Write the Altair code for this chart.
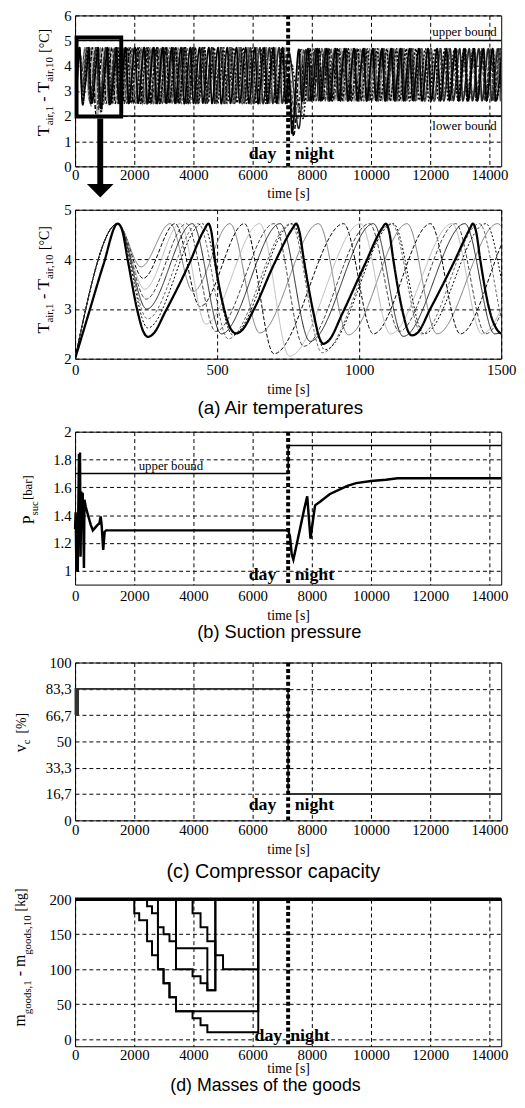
import altair as alt
import pandas as pd

# ---------------- values ----------------
# Air temperatures (time [s], temperature [°C]) - turning points of each display case; C0 = bold curve
C0 = [(0,2.0),(50,2.95),(100,3.9),(150,4.72),(165,4.6),(185,4.0),(220,2.95),(240,2.55),(257,2.44),(275,2.5),(318,2.95),(399,3.88),(455,4.6),(469,4.72),(480,4.55),(492,4.0),(527,2.95),(550,2.58),(567,2.51),(585,2.56),(630,3.0),(700,3.9),(765,4.62),(778,4.72),(790,4.55),(805,4.0),(840,2.9),(860,2.42),(874,2.3),(895,2.38),(940,2.9),(1020,3.9),(1080,4.62),(1094,4.72),(1106,4.55),(1120,4.0),(1155,2.9),(1175,2.52),(1186,2.47),(1205,2.52),(1250,3.0),(1330,3.9),(1390,4.62),(1400,4.72),(1412,4.55),(1426,4.0),(1460,2.95),(1490,2.55),(1505,2.5),
      (1712,4.72),(1817,2.5),(2024,4.72),(2129,2.51),(2336,4.72),(2441,2.49),(2648,4.72),(2753,2.5),(2960,4.72),(3065,2.52),(3272,4.72),(3377,2.5),(3584,4.72),(3689,2.49),(3896,4.72),(4001,2.5),(4208,4.72),(4313,2.51),(4520,4.72),(4625,2.5),(4832,4.72),(4937,2.49),(5144,4.72),(5249,2.5),(5456,4.72),(5561,2.52),(5768,4.72),(5873,2.5),(6080,4.72),(6185,2.49),(6392,4.72),(6497,2.5),(6704,4.72),(6809,2.51),(7016,4.72),(7121,2.5),(7230,3.6),(7330,1.3),(7560,4.65),(7665,2.58),(7872,4.68),(7977,2.6),(8184,4.68),(8289,2.61),(8496,4.68),(8601,2.6),(8808,4.68),(8913,2.62),(9120,4.68),(9225,2.6),(9432,4.68),(9537,2.61),(9744,4.68),(9849,2.6),(10056,4.68),(10161,2.62),(10368,4.68),(10473,2.6),(10680,4.68),(10785,2.61),(10992,4.68),(11097,2.6),(11304,4.68),(11409,2.62),(11616,4.68),(11721,2.6),(11928,4.68),(12033,2.61),(12240,4.68),(12345,2.6),(12552,4.68),(12657,2.62),(12864,4.68),(12969,2.6),(13176,4.68),(13281,2.61),(13488,4.68),(13593,2.6),(13800,4.68),(13905,2.62),(14112,4.68),(14217,2.6),(14424,4.68)]
C1 = [(0,2.0),(150,4.72),(232,3.85),(335,4.72),(415,3.35),(545,4.72),(650,2.52),(857,4.72),(962,2.48),(1169,4.72),(1274,2.5),(1487,4.72),(1592,2.5),(1805,4.72),(1910,2.51),(2123,4.72),(2228,2.5),(2441,4.72),(2546,2.49),(2759,4.72),(2864,2.5),(3077,4.72),(3182,2.52),(3395,4.72),(3500,2.5),(3713,4.72),(3818,2.49),(4031,4.72),(4136,2.5),(4349,4.72),(4454,2.51),(4667,4.72),(4772,2.5),(4985,4.72),(5090,2.5),(5303,4.72),(5408,2.52),(5621,4.72),(5726,2.5),(5939,4.72),(6044,2.49),(6257,4.72),(6362,2.5),(6575,4.72),(6680,2.51),(6893,4.72),(6998,2.5),(7211,4.6),(7350,1.6),(7590,4.65),(7695,2.6),(7908,4.68),(8013,2.61),(8226,4.68),(8331,2.6),(8544,4.68),(8649,2.62),(8862,4.68),(8967,2.6),(9180,4.68),(9285,2.61),(9498,4.68),(9603,2.6),(9816,4.68),(9921,2.62),(10134,4.68),(10239,2.6),(10452,4.68),(10557,2.61),(10770,4.68),(10875,2.6),(11088,4.68),(11193,2.62),(11406,4.68),(11511,2.6),(11724,4.68),(11829,2.61),(12042,4.68),(12147,2.6),(12360,4.68),(12465,2.62),(12678,4.68),(12783,2.6),(12996,4.68),(13101,2.61),(13314,4.68),(13419,2.6),(13632,4.68),(13737,2.62),(13950,4.68),(14055,2.6),(14268,4.68),(14373,2.61),(14586,4.68)]
C2 = [(0,2.0),(150,4.72),(240,3.62),(352,4.72),(440,3.05),(596,4.72),(700,2.1),(945,4.72),(1050,2.5),(1251,4.72),(1356,2.5),(1557,4.72),(1662,2.51),(1863,4.72),(1968,2.5),(2169,4.72),(2274,2.49),(2475,4.72),(2580,2.5),(2781,4.72),(2886,2.52),(3087,4.72),(3192,2.5),(3393,4.72),(3498,2.5),(3699,4.72),(3804,2.49),(4005,4.72),(4110,2.5),(4311,4.72),(4416,2.51),(4617,4.72),(4722,2.5),(4923,4.72),(5028,2.5),(5229,4.72),(5334,2.52),(5535,4.72),(5640,2.5),(5841,4.72),(5946,2.49),(6147,4.72),(6252,2.5),(6453,4.72),(6558,2.51),(6759,4.72),(6864,2.5),(7065,4.72),(7170,2.5),(7260,3.3),(7380,1.2),(7640,4.65),(7745,2.6),(7946,4.68),(8051,2.61),(8252,4.68),(8357,2.6),(8558,4.68),(8663,2.62),(8864,4.68),(8969,2.6),(9170,4.68),(9275,2.61),(9476,4.68),(9581,2.6),(9782,4.68),(9887,2.62),(10088,4.68),(10193,2.6),(10394,4.68),(10499,2.61),(10700,4.68),(10805,2.6),(11006,4.68),(11111,2.62),(11312,4.68),(11417,2.6),(11618,4.68),(11723,2.61),(11924,4.68),(12029,2.6),(12230,4.68),(12335,2.62),(12536,4.68),(12641,2.6),(12842,4.68),(12947,2.61),(13148,4.68),(13253,2.6),(13454,4.68),(13559,2.62),(13760,4.68),(13865,2.6),(14066,4.68),(14171,2.61),(14372,4.68),(14477,2.6)]
C3 = [(0,2.0),(150,4.72),(245,3.4),(370,4.72),(460,2.7),(650,4.72),(755,2.05),(1005,4.72),(1110,2.5),(1327,4.72),(1432,2.5),(1649,4.72),(1754,2.51),(1971,4.72),(2076,2.5),(2293,4.72),(2398,2.49),(2615,4.72),(2720,2.5),(2937,4.72),(3042,2.52),(3259,4.72),(3364,2.5),(3581,4.72),(3686,2.49),(3903,4.72),(4008,2.5),(4225,4.72),(4330,2.51),(4547,4.72),(4652,2.5),(4869,4.72),(4974,2.5),(5191,4.72),(5296,2.52),(5513,4.72),(5618,2.5),(5835,4.72),(5940,2.49),(6157,4.72),(6262,2.5),(6479,4.72),(6584,2.51),(6801,4.72),(6906,2.5),(7123,4.72),(7450,2.0),(7700,4.65),(7805,2.6),(8022,4.68),(8127,2.61),(8344,4.68),(8449,2.6),(8666,4.68),(8771,2.62),(8988,4.68),(9093,2.6),(9310,4.68),(9415,2.61),(9632,4.68),(9737,2.6),(9954,4.68),(10059,2.62),(10276,4.68),(10381,2.6),(10598,4.68),(10703,2.61),(10920,4.68),(11025,2.6),(11242,4.68),(11347,2.62),(11564,4.68),(11669,2.6),(11886,4.68),(11991,2.61),(12208,4.68),(12313,2.6),(12530,4.68),(12635,2.62),(12852,4.68),(12957,2.6),(13174,4.68),(13279,2.61),(13496,4.68),(13601,2.6),(13818,4.68),(13923,2.62),(14140,4.68),(14245,2.6),(14462,4.68)]
C4 = [(0,2.0),(150,4.72),(250,3.2),(392,4.72),(495,2.55),(700,4.72),(805,2.25),(1036,4.72),(1141,2.55),(1340,4.72),(1445,2.5),(1640,4.72),(1745,2.5),(1940,4.72),(2045,2.51),(2240,4.72),(2345,2.5),(2540,4.72),(2645,2.49),(2840,4.72),(2945,2.5),(3140,4.72),(3245,2.52),(3440,4.72),(3545,2.5),(3740,4.72),(3845,2.49),(4040,4.72),(4145,2.5),(4340,4.72),(4445,2.51),(4640,4.72),(4745,2.5),(4940,4.72),(5045,2.5),(5240,4.72),(5345,2.52),(5540,4.72),(5645,2.5),(5840,4.72),(5945,2.49),(6140,4.72),(6245,2.5),(6440,4.72),(6545,2.51),(6740,4.72),(6845,2.5),(7040,4.72),(7145,2.5),(7230,3.2),(7500,1.8),(7740,4.65),(7845,2.6),(8040,4.68),(8145,2.61),(8340,4.68),(8445,2.6),(8640,4.68),(8745,2.62),(8940,4.68),(9045,2.6),(9240,4.68),(9345,2.61),(9540,4.68),(9645,2.6),(9840,4.68),(9945,2.62),(10140,4.68),(10245,2.6),(10440,4.68),(10545,2.61),(10740,4.68),(10845,2.6),(11040,4.68),(11145,2.62),(11340,4.68),(11445,2.6),(11640,4.68),(11745,2.61),(11940,4.68),(12045,2.6),(12240,4.68),(12345,2.62),(12540,4.68),(12645,2.6),(12840,4.68),(12945,2.61),(13140,4.68),(13245,2.6),(13440,4.68),(13545,2.62),(13740,4.68),(13845,2.6),(14040,4.68),(14145,2.61),(14340,4.68),(14445,2.6)]
C5 = [(0,2.0),(150,4.72),(252,3.0),(413,4.72),(515,2.5),(722,4.72),(827,2.35),(1050,4.72),(1155,2.45),(1372,4.72),(1477,2.5),(1697,4.72),(1802,2.5),(2022,4.72),(2127,2.51),(2347,4.72),(2452,2.5),(2672,4.72),(2777,2.49),(2997,4.72),(3102,2.5),(3322,4.72),(3427,2.52),(3647,4.72),(3752,2.5),(3972,4.72),(4077,2.49),(4297,4.72),(4402,2.5),(4622,4.72),(4727,2.51),(4947,4.72),(5052,2.5),(5272,4.72),(5377,2.5),(5597,4.72),(5702,2.52),(5922,4.72),(6027,2.5),(6247,4.72),(6352,2.49),(6572,4.72),(6677,2.5),(6897,4.72),(7002,2.51),(7222,4.55),(7560,1.5),(7800,4.65),(7905,2.6),(8125,4.68),(8230,2.61),(8450,4.68),(8555,2.6),(8775,4.68),(8880,2.62),(9100,4.68),(9205,2.6),(9425,4.68),(9530,2.61),(9750,4.68),(9855,2.6),(10075,4.68),(10180,2.62),(10400,4.68),(10505,2.6),(10725,4.68),(10830,2.61),(11050,4.68),(11155,2.6),(11375,4.68),(11480,2.62),(11700,4.68),(11805,2.6),(12025,4.68),(12130,2.61),(12350,4.68),(12455,2.6),(12675,4.68),(12780,2.62),(13000,4.68),(13105,2.6),(13325,4.68),(13430,2.61),(13650,4.68),(13755,2.6),(13975,4.68),(14080,2.62),(14300,4.68),(14405,2.6)]
C6 = [(0,2.0),(150,4.72),(255,2.8),(434,4.72),(539,2.4),(760,4.72),(870,2.12),(1115,4.72),(1220,2.5),(1424,4.72),(1524,2.5),(1720,4.72),(1820,2.51),(2016,4.72),(2116,2.5),(2312,4.72),(2412,2.49),(2608,4.72),(2708,2.5),(2904,4.72),(3004,2.52),(3200,4.72),(3300,2.5),(3496,4.72),(3596,2.49),(3792,4.72),(3892,2.5),(4088,4.72),(4188,2.51),(4384,4.72),(4484,2.5),(4680,4.72),(4780,2.5),(4976,4.72),(5076,2.52),(5272,4.72),(5372,2.5),(5568,4.72),(5668,2.49),(5864,4.72),(5964,2.5),(6160,4.72),(6260,2.51),(6456,4.72),(6556,2.5),(6752,4.72),(6852,2.5),(7048,4.72),(7148,2.5),(7260,3.4),(7650,2.1),(7880,4.65),(7980,2.6),(8176,4.68),(8276,2.61),(8472,4.68),(8572,2.6),(8768,4.68),(8868,2.62),(9064,4.68),(9164,2.6),(9360,4.68),(9460,2.61),(9656,4.68),(9756,2.6),(9952,4.68),(10052,2.62),(10248,4.68),(10348,2.6),(10544,4.68),(10644,2.61),(10840,4.68),(10940,2.6),(11136,4.68),(11236,2.62),(11432,4.68),(11532,2.6),(11728,4.68),(11828,2.61),(12024,4.68),(12124,2.6),(12320,4.68),(12420,2.62),(12616,4.68),(12716,2.6),(12912,4.68),(13012,2.61),(13208,4.68),(13308,2.6),(13504,4.68),(13604,2.62),(13800,4.68),(13900,2.6),(14096,4.68),(14196,2.61),(14392,4.68),(14492,2.6)]
C7 = [(0,2.0),(150,4.72),(256,2.62),(448,4.72),(555,2.48),(765,4.72),(880,2.18),(1120,4.72),(1228,2.5),(1446,4.72),(1554,2.5),(1772,4.72),(1880,2.51),(2098,4.72),(2206,2.5),(2424,4.72),(2532,2.49),(2750,4.72),(2858,2.5),(3076,4.72),(3184,2.52),(3402,4.72),(3510,2.5),(3728,4.72),(3836,2.49),(4054,4.72),(4162,2.5),(4380,4.72),(4488,2.51),(4706,4.72),(4814,2.5),(5032,4.72),(5140,2.5),(5358,4.72),(5466,2.52),(5684,4.72),(5792,2.5),(6010,4.72),(6118,2.49),(6336,4.72),(6444,2.5),(6662,4.72),(6770,2.51),(6988,4.72),(7096,2.5),(7250,4.2),(7700,1.9),(7930,4.65),(8038,2.6),(8256,4.68),(8364,2.61),(8582,4.68),(8690,2.6),(8908,4.68),(9016,2.62),(9234,4.68),(9342,2.6),(9560,4.68),(9668,2.61),(9886,4.68),(9994,2.6),(10212,4.68),(10320,2.62),(10538,4.68),(10646,2.6),(10864,4.68),(10972,2.61),(11190,4.68),(11298,2.6),(11516,4.68),(11624,2.62),(11842,4.68),(11950,2.6),(12168,4.68),(12276,2.61),(12494,4.68),(12602,2.6),(12820,4.68),(12928,2.62),(13146,4.68),(13254,2.6),(13472,4.68),(13580,2.61),(13798,4.68),(13906,2.6),(14124,4.68),(14232,2.62),(14450,4.68)]
CURVE_NAMES = ["c0", "c1", "c2", "c3", "c4", "c5", "c6", "c7"]
CURVES = [C0, C1, C2, C3, C4, C5, C6, C7]

TEMP_BOUNDS = [5, 2]          # upper / lower bound [°C]
DAY_NIGHT_T = 7200            # switch day -> night [s]

# Suction pressure (time [s], bar)
PSUC = [(0,1.3),(20,1.42),(45,1.0),(70,1.38),(90,0.99),(110,1.45),(133,1.84),(150,1.3),(166,1.85),(185,1.1),(210,1.57),(240,1.42),(257,1.56),(280,1.3),(300,1.02),(316,1.51),(360,1.46),(450,1.39),(530,1.33),(600,1.29),(680,1.31),(760,1.33),(820,1.34),(866,1.39),(900,1.32),(950,1.15),(1000,1.28),(1050,1.29),(1300,1.29),(3000,1.29),(5000,1.29),(7000,1.29),(7200,1.29),(7260,1.25),(7320,1.12),(7377,1.08),(7450,1.15),(7600,1.3),(7750,1.45),(7844,1.535),(7900,1.38),(7955,1.23),(8050,1.38),(8110,1.47),(8300,1.5),(8600,1.55),(9000,1.59),(9200,1.61),(9500,1.63),(10000,1.645),(10500,1.655),(10900,1.665),(12000,1.665),(13000,1.665),(14400,1.665)]
PSUC_BOUND = [(0,1.7),(7200,1.9),(14400,1.9)]

# Compressor capacity (time [s], %)
VC = [(0,66.7),(15,83.3),(40,66.7),(60,83.3),(80,66.7),(100,83.3),(7200,16.7),(14400,16.7)]

# Masses of the goods (time [s], kg)
M_A = [(0,200),(2000,180),(2167,170),(2433,140),(2600,120),(2800,100),(2990,80),(3190,60),(3410,40),(6190,200),(14400,200)]
M_B = [(0,200),(2433,190),(2600,180),(2800,100),(2990,80),(3190,60),(3410,40),(3970,30),(4240,20),(4470,10),(6190,200),(14400,200)]
M_C = [(0,200),(2800,160),(2990,150),(3190,140),(3410,130),(4470,70),(4740,200),(14400,200)]
M_D = [(0,200),(3410,100),(3970,90),(4240,80),(4470,70),(4740,200),(14400,200)]
M_E = [(0,200),(3970,180),(4240,160),(4470,140),(4740,120),(5000,100),(6190,200),(14400,200)]
M_FLAT = [(0,200),(14400,200)]

# Tick values
TICKS_T_LONG = [0, 2000, 4000, 6000, 8000, 10000, 12000, 14000]
TICKS_T_ZOOM = [0, 500, 1000, 1500]
TICKS_TEMP = [0, 1, 2, 3, 4, 5, 6]
TICKS_TEMP_ZOOM = [2, 3, 4, 5]
TICKS_PSUC = [1, 1.2, 1.4, 1.6, 1.8, 2]
TICKS_VC = [0, 16.7, 33.3, 50, 66.7, 83.3, 100]
TICKS_MASS = [0, 50, 100, 150, 200]

# ---------------- styles / layout ----------------
CURVE_COLORS = ["#000000", "#7a7a7a", "#000000", "#b8b8b8", "#444444", "#222222", "#666666", "#000000"]
CURVE_DASHES = [[1, 0], [1, 0], [4, 2], [1, 0], [4, 2], [1, 0], [3, 2], [2, 2]]
W = 432
SERIF = "Liberation Serif"
SANS = "Liberation Sans"
NBSP = "\u00a0"

DUMMY = pd.DataFrame({"k": [0]})

temp_rows = []
for name, pts in zip(CURVE_NAMES, CURVES):
    for t, v in pts:
        temp_rows.append({"curve": name, "t": t, "v": v})
temps = pd.DataFrame(temp_rows)

def pairs_df(pts, name="s"):
    return pd.DataFrame({"t": [p[0] for p in pts], "v": [p[1] for p in pts], "s": name})

mass = pd.concat([pairs_df(p, n) for p, n in
                  [(M_A, "A"), (M_B, "B"), (M_C, "C"), (M_D, "D"), (M_E, "E")]])

TW = {'T': .611, 'a': .444, 'i': .278, 'r': .333, ',': .25, '1': .5, '0': .5, '-': .333,
      '[': .333, ']': .333, '°': .4, 'C': .667, 'P': .556, 's': .389, 'u': .5, 'c': .444,
      'b': .5, 'v': .5, '%': .833, 'm': .778, 'g': .5, 'o': .5, 'd': .5, 'k': .5}

def tlen(s, size):
    return sum(TW.get(ch, .5) for ch in s) * size

def y_title(pieces, x_base, y_mid):
    total = sum(tlen(s, sz) + gap for s, sz, _, gap in pieces)
    y = y_mid + total / 2
    out = []
    for s, sz, shift, gap in pieces:
        y -= gap
        out.append(alt.Chart(DUMMY).mark_text(text=s, angle=270, align="left", baseline="alphabetic",
                                              font=SERIF, fontSize=sz, color="black")
                   .encode(x=alt.value(x_base + shift), y=alt.value(y)))
        y -= tlen(s, sz)
    return out

def x_axis(values, label_pad, title_pad):
    return alt.Axis(values=values, tickCount=len(values), format="d", title="time [s]",
                    labelPadding=label_pad, titlePadding=title_pad, labelFlush=False, labelOverlap=False)

def y_axis(values, fmt="d", expr=None):
    if expr:
        return alt.Axis(values=values, tickCount=len(values), title=None, labelPadding=4,
                        labelExpr=expr, labelOverlap=False)
    return alt.Axis(values=values, tickCount=len(values), format=fmt, title=None, labelPadding=4,
                    labelOverlap=False)

def txt(s, t, v, align, size=18, weight="bold"):
    return alt.Chart(DUMMY).mark_text(text=s, align=align, baseline="middle", font=SERIF,
                                      fontSize=size, fontWeight=weight, color="black") \
        .encode(x=alt.datum(t), y=alt.datum(v))

def day_night(v, t_day=6800, t_night=7420):
    rule = alt.Chart(DUMMY).mark_rule(color="black", strokeWidth=4, strokeDash=[4, 2.5]) \
        .encode(x=alt.datum(DAY_NIGHT_T))
    return [rule, txt("day", t_day, v, "right"), txt("night", t_night, v, "left")]

def caption(text, size, dx, offset, gap):
    return alt.TitleParams(text, orient="bottom", frame="group", anchor="middle", dx=dx, offset=offset,
                           font=SANS, fontSize=size, fontWeight="normal", color="black",
                           subtitle=NBSP, subtitleFontSize=gap, subtitlePadding=0)

color_enc = alt.Color("curve:N", scale=alt.Scale(domain=CURVE_NAMES, range=CURVE_COLORS), legend=None)
dash_enc = alt.StrokeDash("curve:N", scale=alt.Scale(domain=CURVE_NAMES, range=CURVE_DASHES), legend=None)

TEMP_TITLE = [("T", 18, 0, 0), ("air,1", 11, 4, 0), ("-", 16, 0, 4), ("T", 18, 0, 4),
              ("air,10", 11, 4, 0), ("[°C]", 14, 0, 4)]

# ---------- panel 1: air temperatures, full horizon ----------
H1 = 153
x_long = alt.Scale(domain=[0, 14400], nice=False, zero=False)
base1 = alt.Chart(temps).encode(
    x=alt.X("t:Q", scale=x_long, axis=x_axis(TICKS_T_LONG, 1, 5)),
    y=alt.Y("v:Q", scale=alt.Scale(domain=[0, 6], nice=False, zero=False), axis=y_axis(TICKS_TEMP)),
    color=color_enc, strokeDash=dash_enc)
p1_lines = base1.transform_filter("datum.curve != 'c0'").mark_line(interpolate="monotone", clip=True, strokeWidth=1.5)
p1_bold = base1.transform_filter("datum.curve == 'c0'").mark_line(interpolate="monotone", clip=True, strokeWidth=1.6)
bounds1 = [alt.Chart(DUMMY).mark_rule(color="black", strokeWidth=1.5).encode(y=alt.datum(b)) for b in TEMP_BOUNDS]
box = alt.Chart(DUMMY).mark_rect(fillOpacity=0, stroke="black", strokeWidth=4).encode(
    x=alt.datum(50), x2=alt.datum(1560), y=alt.datum(5.12), y2=alt.datum(1.98))
arrow = alt.Chart(DUMMY).mark_rule(color="black", strokeWidth=6).encode(
    x=alt.datum(850), y=alt.datum(1.9), y2=alt.datum(-0.85))
head = alt.Chart(DUMMY).mark_point(shape="M-1,-0.5L1,-0.5L0,0.5Z", filled=True, size=729,
                                   color="black", opacity=1).encode(x=alt.datum(850), y=alt.datum(-0.97))
p1 = alt.layer(p1_lines, p1_bold, *bounds1,
               txt("upper bound", 14250, 5.33, "right", 13, "normal"),
               txt("lower bound", 14250, 1.62, "right", 13, "normal"),
               *day_night(0.47), box, arrow, head,
               *y_title(TEMP_TITLE, -26, 68)).properties(width=W, height=H1)

# ---------- panel 2: zoom 0-1500 s ----------
H2 = 151
base2 = alt.Chart(temps).transform_filter("datum.t <= 1800").encode(
    x=alt.X("t:Q", scale=alt.Scale(domain=[0, 1500], nice=False, zero=False), axis=x_axis(TICKS_T_ZOOM, 4, 5)),
    y=alt.Y("v:Q", scale=alt.Scale(domain=[2, 5], nice=False, zero=False), axis=y_axis(TICKS_TEMP_ZOOM)),
    color=color_enc, strokeDash=dash_enc)
p2_lines = base2.transform_filter("datum.curve != 'c0'").mark_line(interpolate="monotone", clip=True, strokeWidth=1)
p2_bold = base2.transform_filter("datum.curve == 'c0'").mark_line(interpolate="monotone", clip=True, strokeWidth=2.3)
p2 = alt.layer(p2_lines, p2_bold, *y_title(TEMP_TITLE, -26, 71)).properties(
    width=W, height=H2, title=caption("(a) Air temperatures", 19, -8, 3, 5))

# ---------- panel b: suction pressure ----------
H3 = 155
pb_line = alt.Chart(pairs_df(PSUC)).mark_line(color="black", strokeWidth=2.5).encode(
    x=alt.X("t:Q", scale=x_long, axis=x_axis(TICKS_T_LONG, 4, 5)),
    y=alt.Y("v:Q", scale=alt.Scale(domain=[0.9, 2], nice=False, zero=False), axis=y_axis(TICKS_PSUC, ".1~f")))
pb_bound = alt.Chart(pairs_df(PSUC_BOUND)).mark_line(color="black", strokeWidth=1.5, interpolate="step-after").encode(
    x="t:Q", y="v:Q")
pb = alt.layer(pb_bound, pb_line, txt("upper bound", 2150, 1.755, "left", 13, "normal"),
               *day_night(0.97),
               *y_title([("P", 16, 0, 0), ("suc", 11, 4, 0), ("[bar]", 13, -2, 1)], -42, 69)).properties(
    width=W, height=H3, title=caption("(b) Suction pressure", 18.5, -9, 1, 13))

# ---------- panel c: compressor capacity ----------
H4 = 160
pc_line = alt.Chart(pairs_df(VC)).mark_line(color="#333333", strokeWidth=2, interpolate="step-after").encode(
    x=alt.X("t:Q", scale=x_long, axis=x_axis(TICKS_T_LONG, 2, 6)),
    y=alt.Y("v:Q", scale=alt.Scale(domain=[0, 100], nice=False, zero=False),
            axis=y_axis(TICKS_VC, expr="replace(format(datum.value, '.1~f'), '.', ',')")))
pc = alt.layer(pc_line, *day_night(10),
               *y_title([("v", 16, 0, 0), ("c", 11, 4, 0), ("[%]", 14, 0, 6)], -50, 71)).properties(
    width=W, height=H4, title=caption("(c) Compressor capacity", 20, -15, 5, 5))

# ---------- panel d: masses of goods ----------
H5 = 149
pd_lines = alt.Chart(mass).mark_line(color="black", strokeWidth=2, interpolate="step-after").encode(
    x=alt.X("t:Q", scale=x_long, axis=x_axis(TICKS_T_LONG, 1, 0)),
    y=alt.Y("v:Q", scale=alt.Scale(domain=[-10, 200], nice=False, zero=False), axis=y_axis(TICKS_MASS)),
    detail="s:N")
pd_flat = alt.Chart(pairs_df(M_FLAT)).mark_line(color="black", strokeWidth=3.5).encode(x="t:Q", y="v:Q")
pdn = alt.layer(pd_lines, pd_flat, *day_night(4, 7000, 7270),
                *y_title([("m", 16, 0, 0), ("goods,1", 11, 6, 0), ("-", 16, 0, 4), ("m", 16, 0, 4),
                          ("goods,10", 11, 6, 0), ("[kg]", 14, 0, 4)], -51, 59)).properties(
    width=W, height=H5,
    title=alt.TitleParams("(d) Masses of the goods", orient="bottom", frame="group", anchor="middle",
                          dx=-23, offset=1, font=SANS, fontSize=18, fontWeight="normal", color="black"))

chart = alt.vconcat(p1, p2, pb, pc, pdn, spacing=0).resolve_scale(
    x="independent", y="independent").properties(
    padding={"left": 3, "top": -8, "right": 0, "bottom": 0}
).configure_view(stroke="black", strokeWidth=1).configure_axis(
    grid=True, gridColor="black", gridDash=[4, 3], gridWidth=1, gridOpacity=1,
    domain=False, ticks=False, labelOverlap=False, labelFont=SERIF, labelFontSize=15, labelColor="black",
    titleFont=SERIF, titleFontSize=14, titleFontWeight="normal", titleColor="black")

chart.save("out.html", embed_options={"renderer": "svg", "actions": False})
